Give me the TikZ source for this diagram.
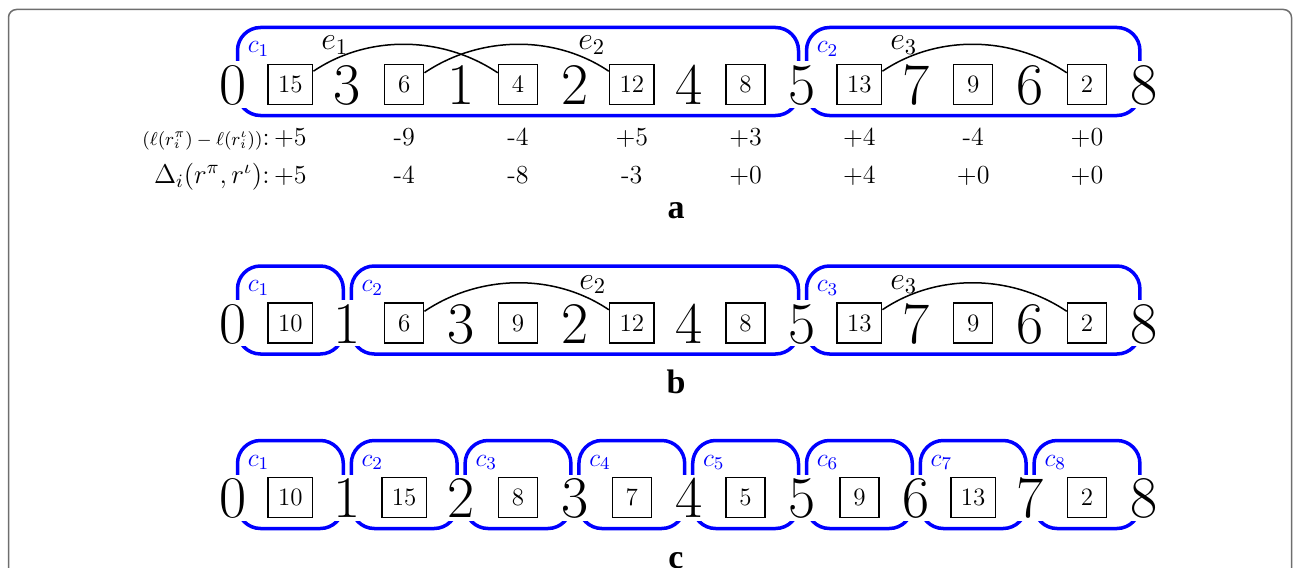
\RequirePackage{fix-cm}
\documentclass[tikz,border=0pt]{standalone}
\usepackage{fontspec}
\newfontfamily\capfont{Liberation Serif}
\definecolor{framecol}{HTML}{6E6E6E}
\tikzset{
  cyc/.style={draw=blue, line width=1.75pt, rounded corners=11.5pt},
  dig/.style={fill=white, inner xsep=0pt, inner ysep=0pt, text height=21.5pt, text depth=1.5pt, font=\fontsize{29.5}{30}\selectfont},
  numbox/.style={draw, line width=0.75pt, minimum width=19.5pt, minimum height=20pt, inner xsep=5pt, inner ysep=0pt, font=\fontsize{12.5}{13}\selectfont},
  clab/.style={text=blue, anchor=base west, inner sep=0pt, font=\fontsize{12.8}{13}\selectfont},
  elab/.style={anchor=base west, inner sep=0pt, font=\fontsize{16}{17}\selectfont},
  val/.style={anchor=base, inner sep=0pt, font=\fontsize{13}{14}\selectfont},
  arcst/.style={line width=0.75pt},
  caplab/.style={anchor=base, inner sep=0pt, font=\capfont\bfseries\fontsize{17}{18}\selectfont}
}
\newcommand\cycbox[5]{%
  \pgfmathsetmacro\xa{233.5+56.9*#1+4}%
  \pgfmathsetmacro\xb{233.5+56.9*#2-4}%
  \draw[cyc] (\xa,#3+31) rectangle (\xb,#3-57);
  \node[clab] (#5) at (\xa+10,#3-31.5) {$c_{#4}$};
}
\newcommand\seqrow[3]{%
  \foreach \t [count=\i from 0] in {#3} {
    \pgfmathsetmacro\xx{233.5+56.9*\i}
    \ifodd\i
      \node[numbox] (#1\i) at (\xx,#2) {\t};
    \else
      \node[dig] (#1\i) at (\xx,#2) {\t};
    \fi
  }
}
\begin{document}
\begin{tikzpicture}[x=0.5pt,y=-0.5pt]
\useasboundingbox (0,0) rectangle (1293,567);
\draw[framecol, line width=0.75pt, rounded corners=4pt] (8.5,640) -- (8.5,9.5) -- (1291.5,9.5) -- (1291.5,640);

% ---------- row a ----------
\cycbox{0}{10}{84.5}{1}{ca1}
\cycbox{10}{16}{84.5}{2}{ca2}
\seqrow{a}{84.5}{0,15,3,6,1,4,2,12,4,8,5,13,7,9,6,2,8}
\draw[arcst] (a1.30) .. controls +(55,-37) and +(-55,-37) .. (a5.150);
\draw[arcst] (a3.30) .. controls +(55,-37) and +(-55,-37) .. (a7.150);
\draw[arcst] (a11.30) .. controls +(55,-37) and +(-55,-37) .. (a15.150);
\node[elab] (ea1) at (321,50) {$e_1$};
\node[elab] (ea2) at (578,50) {$e_2$};
\node[elab] (ea3) at (890,50) {$e_3$};

\node[val, anchor=base east] (lab1) at (270,145) {{\fontsize{9.3}{10}\selectfont$(\ell(r_i^{\pi})-\ell(r_i^{\iota}))$}:};
\node[val, anchor=base east, font=\fontsize{13.5}{14}\selectfont] (lab2) at (270,183) {$\Delta_i(r^{\pi},r^{\iota})$:};
\foreach \v [count=\k from 0] in {+5,-9,-4,+5,+3,+4,-4,+0} {
  \pgfmathsetmacro\xx{233.5+56.9*(2*\k+1)}
  \node[val] (va\k) at (\xx,145) {\v};
}
\foreach \v [count=\k from 0] in {+5,-4,-8,-3,+0,+4,+0,+0} {
  \pgfmathsetmacro\xx{233.5+56.9*(2*\k+1)}
  \node[val] (vb\k) at (\xx,183) {\v};
}
\node[caplab] (capa) at (676,218) {a};

% ---------- row b ----------
\cycbox{0}{2}{323}{1}{cb1}
\cycbox{2}{10}{323}{2}{cb2}
\cycbox{10}{16}{323}{3}{cb3}
\seqrow{b}{323}{0,10,1,6,3,9,2,12,4,8,5,13,7,9,6,2,8}
\draw[arcst] (b3.30) .. controls +(55,-37) and +(-55,-37) .. (b7.150);
\draw[arcst] (b11.30) .. controls +(55,-37) and +(-55,-37) .. (b15.150);
\node[elab] (eb2) at (579,289) {$e_2$};
\node[elab] (eb3) at (890,289) {$e_3$};
\node[caplab] (capb) at (676,393.5) {b};

% ---------- row c ----------
\foreach \j in {1,...,8} {
  \pgfmathtruncatemacro\sa{2*\j-2}
  \pgfmathtruncatemacro\sb{2*\j}
  \cycbox{\sa}{\sb}{497.5}{\j}{cc\j}
}
\seqrow{c}{497.5}{0,10,1,15,2,8,3,7,4,5,5,9,6,13,7,2,8}
\node[caplab] (capc) at (676,568) {c};
\end{tikzpicture}
\end{document}
